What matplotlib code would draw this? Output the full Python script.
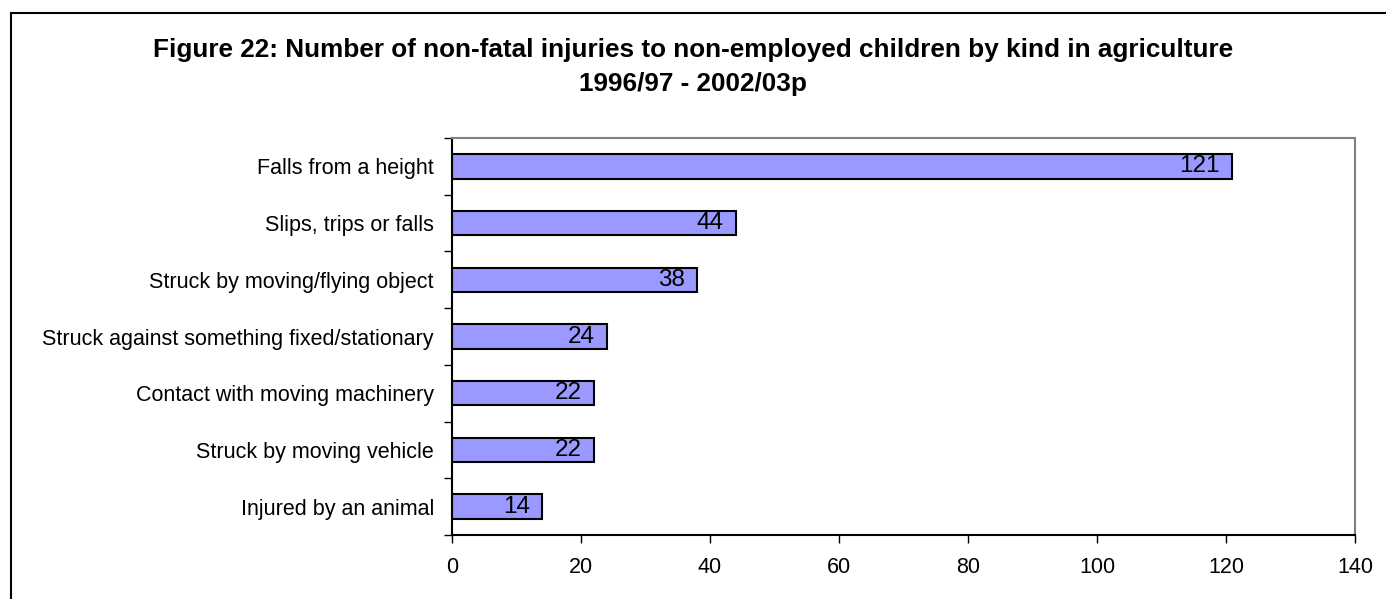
import matplotlib.pyplot as plt
from matplotlib.lines import Line2D

plt.rcParams['font.family'] = ['Liberation Sans', 'DejaVu Sans']

kinds = ['Falls from a height', 'Slips, trips or falls', 'Struck by moving/flying object',
         'Struck against something fixed/stationary', 'Contact with moving machinery',
         'Struck by moving vehicle', 'Injured by an animal']
counts = [121, 44, 38, 24, 22, 22, 14]
xticks = [0, 20, 40, 60, 80, 100, 120, 140]

fig = plt.figure(figsize=(13.86, 5.99), dpi=100)
ax = fig.add_axes([0.3261, 0.1068, 0.6515, 0.6628])

pos = list(range(len(kinds)))
bars = ax.barh(pos, counts, height=0.43, color='#9999FF', edgecolor='black', linewidth=1.5)
for b, v in zip(bars, counts):
    ax.annotate(str(v), (b.get_width(), b.get_y() + b.get_height() / 2),
                xytext=(-9, 0), textcoords='offset points', ha='right', va='center',
                fontsize=17.5)

ax.set_xlim(0, 140)
ax.set_ylim(len(kinds) - 0.5, -0.5)
ax.set_xticks(xticks)
ax.set_xticklabels([str(t) for t in xticks], fontsize=15.5)
ax.set_yticks(pos)
ax.set_yticklabels(kinds, fontsize=15.5)
ax.set_yticks([p - 0.5 for p in pos] + [len(kinds) - 0.5], minor=True)
ax.tick_params(axis='y', which='major', length=0, pad=13)
ax.tick_params(axis='y', which='minor', length=6, width=1, direction='out')
ax.tick_params(axis='x', length=6, width=1, direction='out', pad=10)

ax.spines['left'].set_color('black')
ax.spines['bottom'].set_color('black')
ax.spines['left'].set_linewidth(1.5)
ax.spines['bottom'].set_linewidth(1.5)
ax.spines['top'].set_color('#808080')
ax.spines['right'].set_color('#808080')
ax.spines['top'].set_linewidth(1.5)
ax.spines['right'].set_linewidth(1.5)

fig.text(0.5, 1 - 57 / 599, 'Figure 22: Number of non-fatal injuries to non-employed children by kind in agriculture',
         ha='center', va='baseline', fontsize=18.8, fontweight='bold')
fig.text(0.5, 1 - 91 / 599, '1996/97 - 2002/03p', ha='center', va='baseline', fontsize=18.8, fontweight='bold')

# outer chart border (only left and top visible)
fig.add_artist(Line2D([11 / 1386, 11 / 1386], [0, 1 - 13 / 599], color='black', lw=1.5))
fig.add_artist(Line2D([11 / 1386, 1], [1 - 13 / 599, 1 - 13 / 599], color='black', lw=1.5))

fig.savefig('out.png', dpi=100)
